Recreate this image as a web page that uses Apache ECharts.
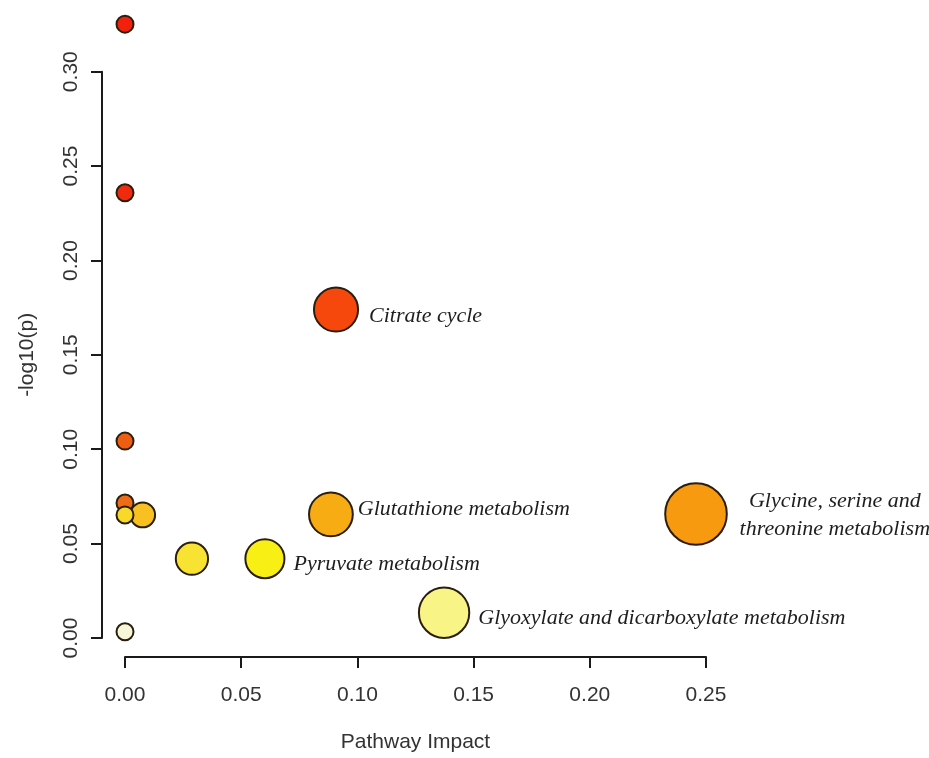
<!DOCTYPE html>
<html>
<head>
<meta charset="utf-8">
<script src="https://cdn.jsdelivr.net/npm/echarts@6/dist/echarts.min.js"></script>
<style>
html,body{margin:0;padding:0;background:#fff;}
#chart{width:929px;height:758px;}
</style>
</head>
<body>
<div id="chart"></div>
<script>
// ---- data ----
const pathways = ['', '', 'Citrate cycle', '', '', '', 'Glycine, serine and\nthreonine metabolism', 'Glutathione metabolism', '', '', 'Pyruvate metabolism', 'Glyoxylate and dicarboxylate metabolism', ''];
const impact   = [0,      0,      0.0908, 0,      0,      0.0076, 0.2457, 0.0886, 0,      0.0288, 0.0602, 0.1373, 0];
const negLogP  = [0.3252, 0.2359, 0.1740, 0.1043, 0.0715, 0.0652, 0.0657, 0.0655, 0.0652, 0.0420, 0.0420, 0.0134, 0.0033];
const xTicks = [0, 0.05, 0.10, 0.15, 0.20, 0.25];
const yTicks = [0, 0.05, 0.10, 0.15, 0.20, 0.25, 0.30];

// ---- styles ----
const pointColors = ['#f2200c', '#f02a0e', '#f6480c', '#ee5e12', '#ee6c16', '#f8c020', '#f79a10', '#f8ac14', '#f8d828', '#f8e232', '#f8f014', '#f8f486', '#f8f6d8'];
const labelStyle = {
  'Citrate cycle': {distance: 10, offset: [0, 7]},
  'Glycine, serine and\nthreonine metabolism': {distance: 13, align: 'center', offset: [94, 1], lineHeight: 28},
  'Glutathione metabolism': {distance: 4, offset: [0, -5]},
  'Pyruvate metabolism': {distance: 8, offset: [0, 6]},
  'Glyoxylate and dicarboxylate metabolism': {distance: 8, offset: [0, 6]}
};
const sizeOf = v => 17 + 90 * Math.sqrt(v[0]);

const data = impact.map((x, i) => {
  const item = {name: pathways[i], value: [x, negLogP[i]], itemStyle: {color: pointColors[i]}};
  if (pathways[i]) {
    item.label = Object.assign({show: true, position: 'right', formatter: '{b}'}, labelStyle[pathways[i]]);
  }
  return item;
});

const chart = echarts.init(document.getElementById('chart'), null, {renderer: 'canvas'});
const sans = 'Liberation Sans, Arial, sans-serif';
chart.setOption({
  animation: false,
  backgroundColor: '#ffffff',
  grid: {left: 125, right: 223, top: 71.7, bottom: 117.5, containLabel: false},
  xAxis: {
    type: 'value', min: xTicks[0], max: xTicks[xTicks.length - 1], interval: 0.05,
    offset: 19,
    name: 'Pathway Impact', nameLocation: 'middle', nameGap: 75,
    nameTextStyle: {fontFamily: sans, fontSize: 21, color: '#333'},
    axisLine: {show: true, onZero: false, lineStyle: {color: '#1a1a1a', width: 2}},
    axisTick: {show: true, length: 11, lineStyle: {color: '#1a1a1a', width: 2}},
    axisLabel: {margin: 28, fontFamily: sans, fontSize: 21, color: '#333', formatter: v => v.toFixed(2)},
    splitLine: {show: false}
  },
  yAxis: {
    type: 'value', min: yTicks[0], max: yTicks[yTicks.length - 1], interval: 0.05,
    offset: 23,
    name: '-log10(p)', nameLocation: 'middle', nameGap: 64, nameRotate: 90,
    nameTextStyle: {fontFamily: sans, fontSize: 21, color: '#333'},
    axisLine: {show: true, onZero: false, lineStyle: {color: '#1a1a1a', width: 2}},
    axisTick: {show: true, length: 11, lineStyle: {color: '#1a1a1a', width: 2}},
    axisLabel: {margin: 20, rotate: 90, fontFamily: sans, fontSize: 21, color: '#333', formatter: v => v.toFixed(2)},
    splitLine: {show: false}
  },
  series: [{
    type: 'scatter',
    clip: false,
    symbol: 'circle',
    symbolSize: sizeOf,
    itemStyle: {borderColor: '#2a1e0e', borderWidth: 2, opacity: 1},
    label: {show: false, fontFamily: 'Liberation Serif, Times New Roman, serif', fontStyle: 'italic', fontSize: 22, color: '#1e1e1e'},
    emphasis: {disabled: true},
    data: data
  }]
});
</script>
</body>
</html>
